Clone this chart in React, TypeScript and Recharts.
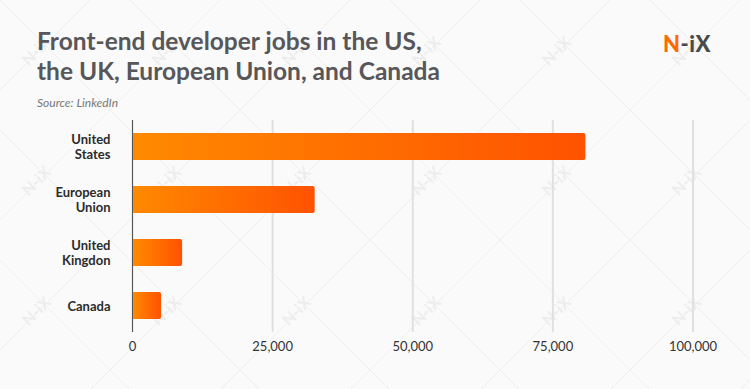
import React from "react"
import { BarChart, Bar, XAxis, YAxis, CartesianGrid } from "recharts"

// regions and job counts
const regions = ["United States", "European Union", "United Kingdom", "Canada"]
const tickLines: Record<string, string[]> = {
    "United States": ["United", "States"],
    "European Union": ["European", "Union"],
    "United Kingdom": ["United", "Kingdon"],
    "Canada": ["Canada"],
}
const jobs = [80800, 32500, 8850, 5100]
const xTicks = [0, 25000, 50000, 75000, 100000]

const data = regions.map((region, i) => ({ region, jobs: jobs[i] }))

const font = "Lato, 'Open Sans', sans-serif"

function RegionTick(props: any) {
    const { x, y, payload } = props
    const lines = tickLines[payload.value] || [payload.value]
    const lh = 15
    const start = y - ((lines.length - 1) * lh) / 2
    return (
        <text x={x} y={start} textAnchor="end" fill="#2b2b2b" fontSize={13} fontWeight={700} fontFamily={font} dominantBaseline="central">
            {lines.map((l, i) => (
                <tspan key={i} x={x} y={start + i * lh}>{l}</tspan>
            ))}
        </text>
    )
}

function Watermark() {
    return (
        <svg width={750} height={389} style={{ position: "absolute", left: 0, top: 0 }}>
            <defs>
                <pattern id="wm" width={130} height={130} patternUnits="userSpaceOnUse" x={-20} y={-20}>
                    <path d="M0 0 L65 65 L130 0 M0 130 L65 65 L130 130" stroke="#efefef" strokeWidth={1} fill="none" />
                    <text x={40} y={78} fontSize={16} fontWeight={700} fontFamily={font} fill="#ededed" transform="rotate(-45 55 72)">N-iX</text>
                </pattern>
            </defs>
            <rect width={750} height={389} fill="#fafafa" />
            <rect width={750} height={389} fill="url(#wm)" />
        </svg>
    )
}

export default function App() {
    return (
        <div style={{ position: "absolute", left: 0, top: 0, width: 750, height: 389, overflow: "hidden", fontFamily: font }}>
            <Watermark />
            <div style={{ position: "absolute", left: 37, top: 26, fontSize: 24.5, fontWeight: 700, color: "#57575a", lineHeight: "30px" }}>
                Front-end developer jobs in the US,<br />the UK, European Union, and Canada
            </div>
            <div style={{ position: "absolute", left: 37, top: 95, fontSize: 12, fontStyle: "italic", color: "#777" }}>
                Source: LinkedIn
            </div>
            <div style={{ position: "absolute", left: 663, top: 30, fontSize: 22, fontWeight: 900, color: "#4a4a4a", letterSpacing: 0.5 }}>
                <span style={{ color: "#ff6a00" }}>N</span>-iX
            </div>
            <div style={{ position: "absolute", left: 0, top: 0 }}>
                <BarChart width={750} height={389} data={data} layout="vertical" margin={{ top: 120, right: 57, bottom: 27, left: 0 }}>
                    <defs>
                        <linearGradient id="barFill" x1="0" y1="0" x2="1" y2="0">
                            <stop offset="0%" stopColor="#ff8a00" />
                            <stop offset="100%" stopColor="#ff5200" />
                        </linearGradient>
                    </defs>
                    <CartesianGrid horizontal={false} stroke="#e0e0e0" strokeWidth={2} />
                    <XAxis
                        type="number"
                        domain={[0, 100000]}
                        ticks={xTicks}
                        tickFormatter={(v: number) => v.toLocaleString("en-US")}
                        axisLine={false}
                        tickLine={false}
                        tickMargin={4}
                        height={30}
                        tick={{ fill: "#333", fontSize: 13, fontFamily: font }}
                    />
                    <YAxis
                        type="category"
                        dataKey="region"
                        width={132.5}
                        axisLine={{ stroke: "#555", strokeWidth: 1 }}
                        tickLine={false}
                        tickMargin={16}
                        tick={<RegionTick />}
                    />
                    <Bar dataKey="jobs" fill="url(#barFill)" barSize={27} radius={[0, 2, 2, 0]} isAnimationActive={false} />
                </BarChart>
            </div>
        </div>
    )
}
